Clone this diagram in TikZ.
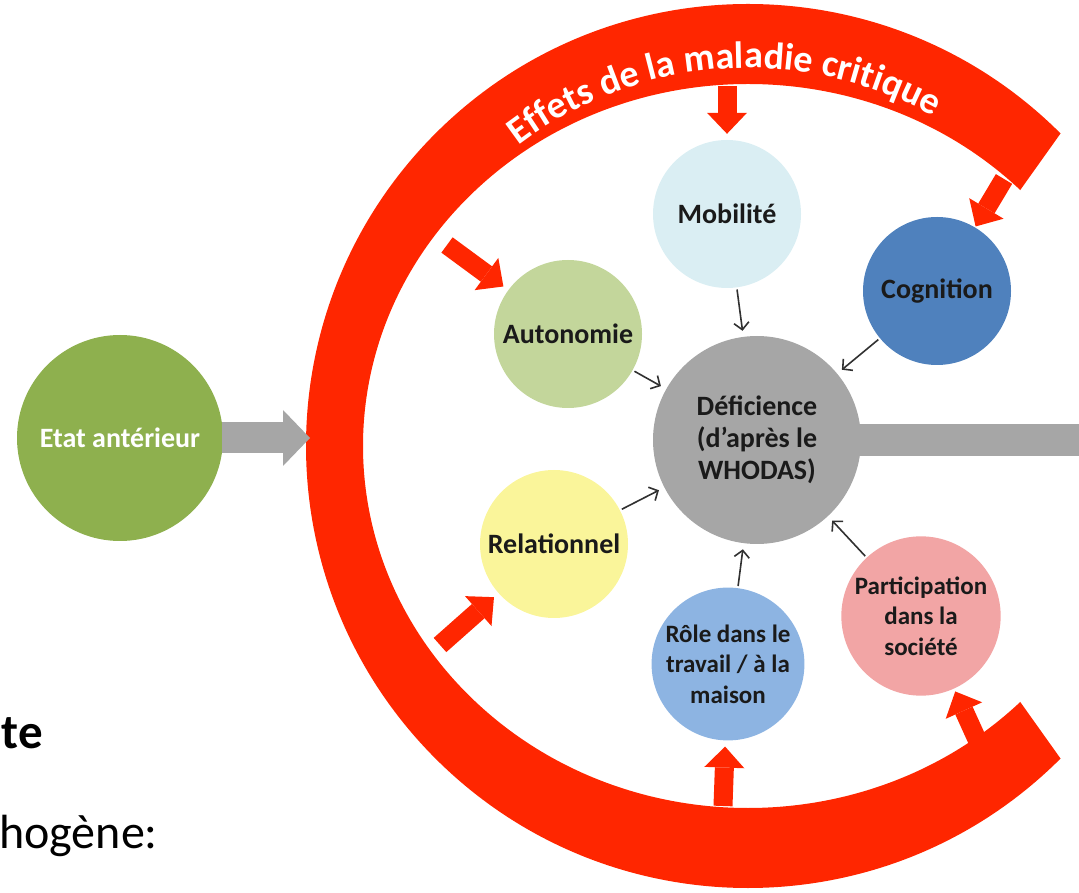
\documentclass[tikz,border=0pt]{standalone}
\usepackage{fontspec}
\setmainfont{Carlito}
\usepackage{tikz}
\usetikzlibrary{arrows.meta,calc,decorations.text}
\definecolor{ringRed}{HTML}{FF2600}
\definecolor{flowGray}{HTML}{A6A6A6}
\definecolor{etatGreen}{HTML}{8EB04E}
\definecolor{mobBlue}{HTML}{DAEEF3}
\definecolor{cogBlue}{HTML}{4F81BD}
\definecolor{autoGreen}{HTML}{C3D69B}
\definecolor{relYellow}{HTML}{FAF59A}
\definecolor{roleBlue}{HTML}{8DB4E2}
\definecolor{partPink}{HTML}{F2A5A5}
\definecolor{labelInk}{HTML}{1A1A1A}
\tikzset{
  factor/.style={circle,draw=none,minimum size=148pt,inner sep=2pt,align=center,
    font=\bfseries\fontsize{28}{32}\selectfont,text=labelInk},
  smallfactor/.style={factor,font=\bfseries\fontsize{25}{30.5}\selectfont},
  effectarrow/.style={-{Triangle[length=21pt,width=40pt,line width=0pt]},line width=19pt,
    draw=ringRed,shorten >=6pt},
  linkarrow/.style={-{Straight Barb[length=7pt,width=15pt]},line width=1.6pt,
    draw=labelInk!90,shorten <=2pt,shorten >=6pt},
  flowarrow/.style={-{Triangle[length=27pt,width=56pt,line width=0pt]},line width=31pt,
    draw=flowGray}
}

\begin{document}
\begin{tikzpicture}[x=1pt,y=1pt]
  \clip (0,0) rectangle (1079,892);
  \coordinate (ctr) at (748,446);
  % ring of the illness effects
  \fill[ringRed] ($(ctr)+(45:442pt)$) arc[start angle=45,end angle=315,radius=442pt]
    -- ($(ctr)+(315:385pt and 362pt)$)
    arc[start angle=315,end angle=45,x radius=385pt,y radius=362pt] -- cycle;
  \path[decorate,decoration={text along path,text align=center,
    text={|\color{white}\bfseries\fontsize{38}{42}\selectfont|Effets de la maladie critique}}]
    ($(ctr)+(130:378pt)$) arc[start angle=130,end angle=58,radius=378pt];

  \node[factor,fill=etatGreen,text=white,minimum size=206pt] (etat) at (120,454) {Etat antérieur};
  \node[factor,fill=flowGray,minimum size=208pt] (defic) at (757,452)
    {Déficience\\(d’après le\\WHODAS)};
  \node[factor,fill=mobBlue] (mob) at (727,678) {Mobilité};
  \node[factor,fill=cogBlue] (cog) at (937,601) {Cognition};
  \node[factor,fill=autoGreen] (auto) at (568,558) {Autonomie};
  \node[factor,fill=relYellow] (rel) at (554,348) {Relationnel};
  \node[smallfactor,fill=roleBlue,minimum size=150pt] (role) at (728,228)
    {Rôle dans le\\travail / à la\\maison};
  \node[smallfactor,fill=partPink] (part) at (921,276)
    {Participation\\dans la\\société};

  % grey flow
  \coordinate (etattip) at (310,454);
  \coordinate (barend) at (1090,452);
  \draw[flowarrow,shorten <=-1pt] (etat) -- (etattip);
  \draw[draw=flowGray,line width=32pt,shorten <=-4pt] (defic) -- (barend);

  % red arrows from the ring
  \coordinate (tmob) at (727,806);
  \coordinate (tcog) at (1004,713);
  \coordinate (tauto) at (447,647);
  \coordinate (trel) at (440,247);
  \coordinate (trole) at (723,86);
  \coordinate (tpart) at (980,146);
  \draw[effectarrow] (tmob) -- (mob);
  \draw[effectarrow,shorten >=1pt] (tcog) -- (cog);
  \draw[effectarrow] (tauto) -- (auto);
  \draw[effectarrow] (trel) -- (rel);
  \draw[effectarrow] (trole) -- (role);
  \draw[effectarrow,shorten >=3pt] (tpart) -- (part);

  % links to the impairment
  \foreach \src in {mob,cog,auto,rel,role,part}
    \draw[linkarrow] (\src) -- (defic);

  % slide text behind the diagram
  \node[anchor=base east,inner sep=0pt,font=\bfseries\fontsize{49}{55}\selectfont] (head)
    at (43,143) {te};
  \node[anchor=base east,inner sep=0pt,font=\fontsize{48}{55}\selectfont] (body)
    at (158,44) {hogène:};
\end{tikzpicture}
\end{document}
